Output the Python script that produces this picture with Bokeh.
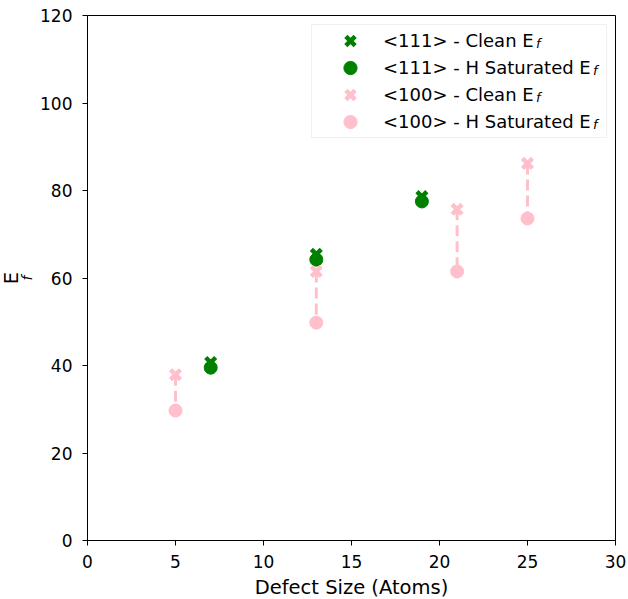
from bokeh.plotting import figure
from bokeh.models import (Range1d, Legend, LegendItem, Label, FixedTicker,
                          Title, BoxAnnotation)
from bokeh.embed import file_html
from bokeh.resources import INLINE

# ---- data ----
x_111 = [7, 13, 19]
clean_111 = [40.7, 65.4, 78.6]
hsat_111 = [39.5, 64.2, 77.5]

x_100 = [5, 13, 21, 25]
clean_100 = [37.9, 61.5, 75.7, 86.2]
hsat_100 = [29.7, 49.8, 61.5, 73.6]

x_ticks = [0, 5, 10, 15, 20, 25, 30]
y_ticks = [0, 20, 40, 60, 80, 100, 120]

labels = ["<111> - Clean E", "<111> - H Saturated E",
          "<100> - Clean E", "<100> - H Saturated E"]

GREEN = "#008000"
PINK = "#ffc0cb"
FONT = "DejaVu Sans"

p = figure(frame_width=528, frame_height=525,
           x_range=Range1d(0, 30), y_range=Range1d(0, 120),
           output_backend="svg", toolbar_location=None,
           min_border_left=87, min_border_right=13,
           min_border_top=15, min_border_bottom=59)

p.xgrid.visible = False
p.ygrid.visible = False
p.outline_line_color = "black"
p.outline_line_width = 1
p.background_fill_color = "white"
p.border_fill_color = "white"

for ax in (p.xaxis[0], p.yaxis[0]):
    ax.major_tick_in = 0
    ax.major_tick_out = 5
    ax.minor_tick_in = 0
    ax.minor_tick_out = 0
    ax.axis_line_color = "black"
    ax.major_tick_line_color = "black"
    ax.major_label_text_font = FONT
    ax.major_label_text_font_size = "17px"
    ax.major_label_text_color = "black"
    ax.axis_label_text_font = FONT
    ax.axis_label_text_font_style = "normal"
    ax.axis_label_text_font_size = "19.5px"
    ax.axis_label_text_color = "black"

p.xaxis.ticker = FixedTicker(ticks=x_ticks)
p.yaxis.ticker = FixedTicker(ticks=y_ticks)
p.xaxis.major_label_standoff = 9
p.yaxis.major_label_standoff = 10
p.xaxis.axis_label = "Defect Size (Atoms)"
p.xaxis.axis_label_standoff = 5

# y axis label "E" with subscript "f" (inner "f", outer "E")
p.add_layout(Title(text="f", align="center", offset=8.5, standoff=6,
                   text_font=FONT, text_font_size="14px",
                   text_font_style="italic", text_color="black"), "left")
p.add_layout(Title(text="E", align="center", offset=-2.5, standoff=-18,
                   text_font=FONT, text_font_size="19.5px",
                   text_font_style="normal", text_color="black"), "left")

# connecting dashed lines and markers
p.segment(x0=x_111, y0=clean_111, x1=x_111, y1=hsat_111,
          line_color=GREEN, line_width=3, line_dash="11 5")
r1 = p.scatter(x_111, clean_111, marker="x", size=14,
               line_width=4.5, line_color=GREEN)
r2 = p.scatter(x_111, hsat_111, marker="circle", size=13, color=GREEN)

p.segment(x0=x_100, y0=clean_100, x1=x_100, y1=hsat_100,
          line_color=PINK, line_width=3, line_dash="11 5")
r3 = p.scatter(x_100, clean_100, marker="x", size=14,
               line_width=4.5, line_color=PINK)
r4 = p.scatter(x_100, hsat_100, marker="circle", size=13, color=PINK)

# legend frame
p.add_layout(BoxAnnotation(left=12.73, right=29.49, bottom=92.11, top=117.94,
                           fill_color="white", fill_alpha=0.8,
                           line_color="#cccccc", line_width=1))

# one legend per row so that the glyphs keep their size
row_vy = [483.5, 456.5, 429.5, 402.5]
for lab, r, vy in zip(labels, [r1, r2, r3, r4], row_vy):
    p.add_layout(Legend(items=[LegendItem(label=lab, renderers=[r])],
                        location=(230, vy), margin=0, padding=0,
                        spacing=0, glyph_height=33, glyph_width=66,
                        label_standoff=0, label_height=20,
                        label_text_font=FONT, label_text_font_size="18px",
                        label_text_color="black",
                        border_line_color=None,
                        background_fill_alpha=0))

# subscript "f" for the legend entries
sub_x = [25.48, 28.72, 25.48, 28.72]
sub_y = [113.6, 107.43, 101.26, 95.09]
for sx, sy in zip(sub_x, sub_y):
    p.add_layout(Label(x=sx, y=sy, text="f", text_font=FONT,
                       text_font_style="italic", text_font_size="13px",
                       text_align="left", text_baseline="middle",
                       text_color="black"))

open("out.html", "w").write(file_html(p, INLINE))
